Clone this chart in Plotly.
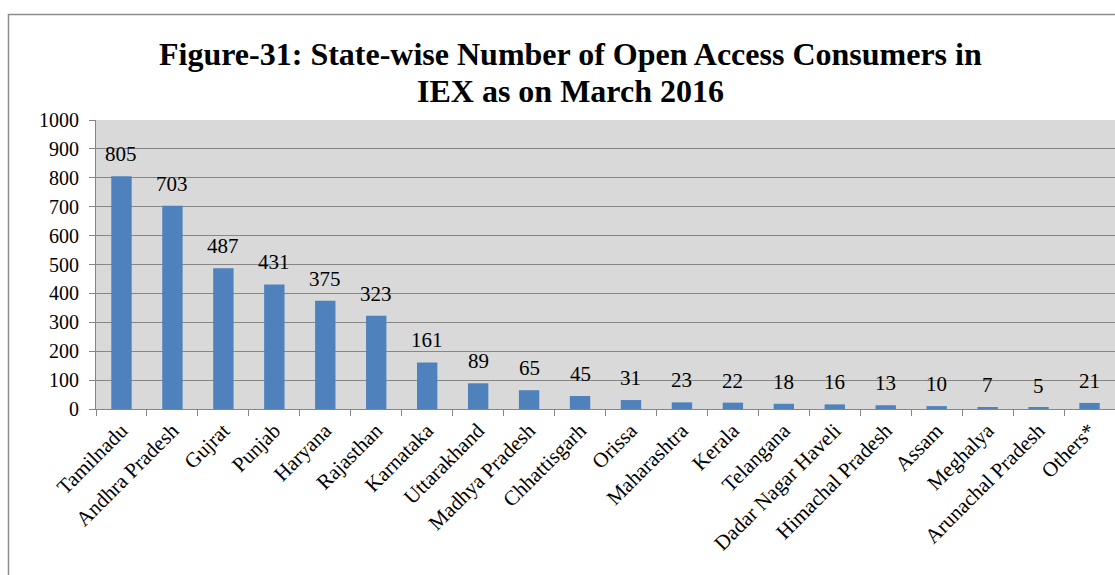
import plotly.graph_objects as go

states = ["Tamilnadu", "Andhra Pradesh", "Gujrat", "Punjab", "Haryana", "Rajasthan",
          "Karnataka", "Uttarakhand", "Madhya Pradesh", "Chhattisgarh", "Orissa",
          "Maharashtra", "Kerala", "Telangana", "Dadar Nagar Haveli", "Himachal Pradesh",
          "Assam", "Meghalya", "Arunachal Pradesh", "Others*"]
consumers = [805, 703, 487, 431, 375, 323, 161, 89, 65, 45, 31, 23, 22, 18, 16, 13, 10, 7, 5, 21]
y_ticks = list(range(0, 1001, 100))
title_lines = ["Figure-31: State-wise Number of Open Access Consumers in",
               "IEX as on March 2016"]

serif = "Liberation Serif, Times New Roman, serif"

fig = go.Figure(go.Bar(
    x=states, y=consumers,
    marker=dict(color="#4f81bd", line=dict(width=0)),
    hoverinfo="x+y",
))

# value labels above each bar
annotations = [
    dict(x=s, y=v, xref="x", yref="y", text=str(v), showarrow=False,
         yanchor="bottom", yshift=8,
         font=dict(family=serif, size=21, color="black"))
    for s, v in zip(states, consumers)
]

# plot-area pixel geometry
L, R, T, B, W, H = 96, 0, 120, 166, 1115, 575
pw, ph = W - L - R, H - T - B

def px_x(p):
    return (p - L) / pw

def px_y(p):
    return (H - B - p) / ph

# two-line bold title, centred over the chart
for line, base in zip(title_lines, [67, 104]):
    annotations.append(dict(
        x=px_x(570), y=px_y(base), xref="paper", yref="paper",
        text=f"<b>{line}</b>", showarrow=False, xanchor="center", yanchor="bottom",
        yshift=-7, font=dict(family=serif, size=32, color="black"),
    ))

fig.update_layout(
    width=W, height=H,
    margin=dict(l=L, r=R, t=T, b=B),
    paper_bgcolor="white", plot_bgcolor="#d9d9d9",
    bargap=0.6, showlegend=False,
    annotations=annotations,
    xaxis=dict(
        tickangle=-45, tickfont=dict(family=serif, size=21, color="black"),
        showline=True, linecolor="#868686", linewidth=1,
        ticks="outside", tickson="boundaries", ticklen=6, tickcolor="#868686",
        showgrid=False,
    ),
    yaxis=dict(
        range=[0, 1000], tickvals=y_ticks,
        tickfont=dict(family=serif, size=20, color="black"),
        showline=True, linecolor="#868686", linewidth=1,
        ticks="outside", ticklen=6, tickcolor="#868686", ticklabelstandoff=6,
        showgrid=True, gridcolor="#868686", gridwidth=1, zeroline=False,
    ),
    shapes=[dict(
        type="rect", xref="paper", yref="paper",
        x0=px_x(8.5), x1=px_x(1200), y0=px_y(700), y1=px_y(14.5),
        line=dict(color="#8c8c8c", width=1.5), fillcolor="rgba(0,0,0,0)", layer="below",
    )],
)

fig.write_html("out.html")
